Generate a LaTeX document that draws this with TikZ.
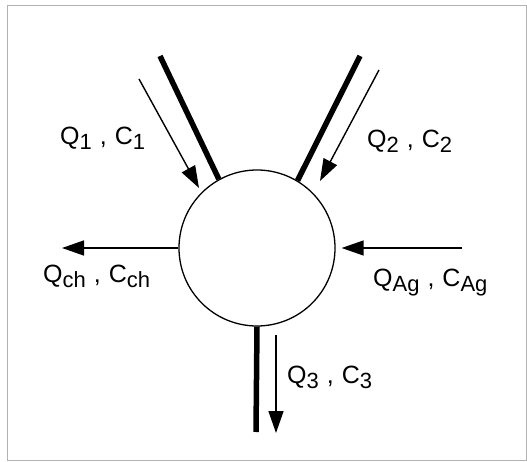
\documentclass[tikz,border=0pt]{standalone}
\usepackage{fontspec}
\setmainfont{Liberation Sans}
\usetikzlibrary{arrows.meta}
\newcommand{\subtxt}[1]{\raisebox{-5pt}{\fontsize{22}{22}\selectfont #1}}
\newcommand{\QC}[1]{Q\subtxt{#1}\hspace{8pt},\hspace{8pt}C\subtxt{#1}}
\begin{document}
\begin{tikzpicture}[x=1pt,y=-1pt,
  pipe/.style={line width=5.5pt},
  flow/.style={line width=1.4pt,-{Triangle[length=22pt,width=15pt]}},
  lbl/.style={anchor=base west,inner sep=0pt,font=\fontsize{25}{29}\selectfont}]
\useasboundingbox (0,0) rectangle (527,462);
\draw[gray!60,line width=1pt] (7,6) rectangle (526,460);
\node[draw,circle,line width=1.3pt,minimum size=156pt,inner sep=0pt] (mix) at (257,248) {};
% tuberias
\coordinate (t1) at (160,56);
\coordinate (t2) at (360,56);
\coordinate (t3) at (256,432);
\draw[pipe] (t1) -- (mix.119);
\draw[pipe] (t2) -- (mix.59);
\draw[pipe] (mix.270) -- (t3);
% flujos
\coordinate (a1) at (139,79);
\coordinate (b1) at (199,188);
\coordinate (a2) at (379,70);
\coordinate (b2) at (320,181);
\coordinate (a3) at (276,335);
\coordinate (b3) at (276,433);
\coordinate (ch) at (62,248);
\coordinate (ag) at (462,248);
\draw[flow] (a1) -- (b1);
\draw[flow] (a2) -- (b2);
\draw[flow] (a3) -- (b3);
\draw[flow] (mix.west) -- (ch);
\draw[flow,shorten >=6pt] (ag) -- (mix.east);
\node[lbl] (l1) at (60,145) {\QC{1}};
\node[lbl] (l2) at (367,148) {\QC{2}};
\node[lbl] (lch) at (43,283) {\QC{ch}};
\node[lbl] (lag) at (373,287) {\QC{Ag}};
\node[lbl] (l3) at (287,383) {\QC{3}};
\end{tikzpicture}
\end{document}
